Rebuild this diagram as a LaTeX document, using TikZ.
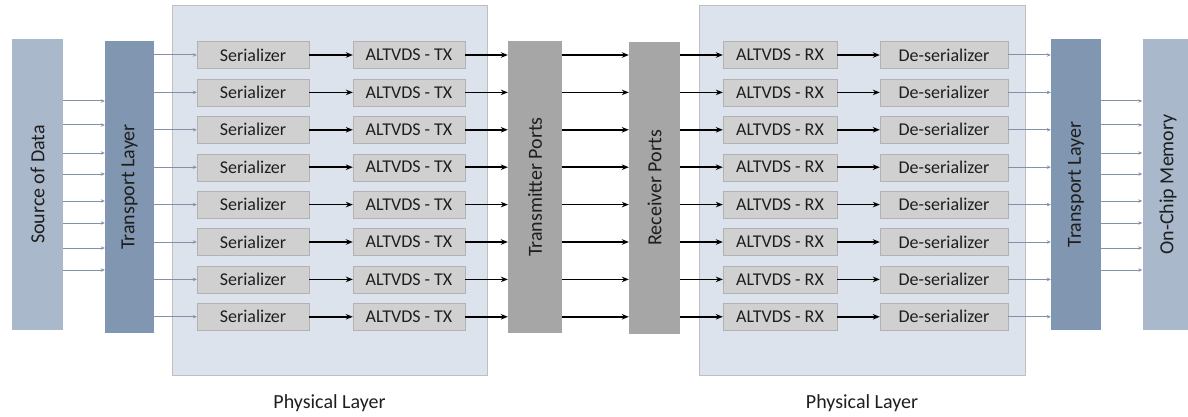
\documentclass[tikz,border=0pt]{standalone}
\usepackage{graphicx}
\usepackage{fontspec}
\setmainfont{Carlito}
\usetikzlibrary{arrows.meta}
\definecolor{srcblue}{HTML}{AAB8CB}
\definecolor{tlblue}{HTML}{8196B0}
\definecolor{portgray}{HTML}{A6A6A6}
\definecolor{boxgray}{HTML}{D0D0D0}
\definecolor{physfill}{HTML}{DDE3EC}
\definecolor{arrgray}{HTML}{8392A6}
\definecolor{txt}{HTML}{1E1E1E}

\begin{document}
\begin{tikzpicture}[x=1pt,y=-1pt,>=Stealth,text=txt,
  col/.style={fill=#1,minimum width=51,minimum height=291,inner sep=0pt,font=\fontsize{20}{20}\selectfont},
  phys/.style={fill=physfill,draw=black!25,minimum width=#1,minimum height=370,inner sep=0pt},
  cell/.style={fill=boxgray,draw=black!30,minimum width=#1,minimum height=27,inner sep=0pt,font=\fontsize{18}{18}\selectfont},
  thinarr/.style={draw=arrgray,line width=1pt,-{Stealth[length=4pt,width=3.5pt]}},
  thickarr/.style={line width=1.7pt,-{Stealth[length=7pt,width=5.5pt]}}]
 \useasboundingbox (0,0) rectangle (1188,417);
 % outer columns
 \node[col=srcblue] (src) at (37.5,184.5) {\rotatebox{90}{Source of Data}};
 \node[col=tlblue,minimum width=49] (tlL) at (129.5,187) {\rotatebox{90}{Transport Layer}};
 \node[col=portgray,minimum width=54] (tp) at (535,187) {\rotatebox{90}{Transmitter Ports}};
 \node[col=portgray] (rp) at (654.5,188) {\rotatebox{90}{Receiver Ports}};
 \node[col=tlblue,minimum width=50] (tlR) at (1076,184.5) {\rotatebox{90}{Transport Layer}};
 \node[col=srcblue] (mem) at (1168,184.5) {\rotatebox{90}{On-Chip Memory}};
 % physical layers
 \node[phys=315] (plL) at (329.5,190.5) {};
 \node[phys=326] (plR) at (862,190) {};
 \node[font=\fontsize{20}{20}\selectfont] (plLtxt) at (plL.south |- 0,403) {Physical Layer};
 \node[font=\fontsize{20}{20}\selectfont] (plRtxt) at (plR.south |- 0,403) {Physical Layer};
 \foreach \i in {1,...,8}{
  \pgfmathsetmacro\y{55+37.4*(\i-1)}
  \node[cell=112] (ser-\i) at (253,\y) {Serializer};
  \node[cell=112] (tx-\i) at (409,\y) {ALTVDS - TX};
  \node[cell=114] (rx-\i) at (780,\y) {ALTVDS - RX};
  \node[cell=128] (des-\i) at (944,\y) {De-serializer};
  \draw[thinarr] (tlL.east |- ser-\i) -- (ser-\i.west);
  \draw[thickarr] (ser-\i.east) -- (tx-\i.west);
  \draw[thickarr] (tx-\i.east) -- (tp.west |- tx-\i);
  \draw[thickarr] (tp.east |- tx-\i) -- (rp.west |- rx-\i);
  \draw[thickarr] (rp.east |- rx-\i) -- (rx-\i.west);
  \draw[thickarr] (rx-\i.east) -- (des-\i.west);
  \draw[thinarr] (des-\i.east) -- (tlR.west |- des-\i);
 }
 \foreach \y in {101,125,153,174,201,223,248,270}{
  \draw[thinarr] (src.east |- 0,\y) -- (tlL.west |- 0,\y);
  \draw[thinarr] (tlR.east |- 0,\y) -- (mem.west |- 0,\y);
 }
\end{tikzpicture}
\end{document}
